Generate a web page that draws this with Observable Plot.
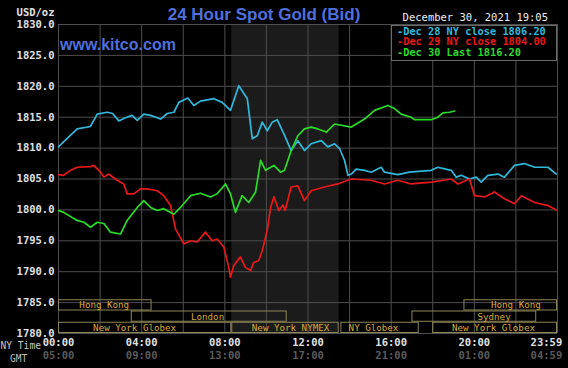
<!DOCTYPE html>
<html>
<head>
<meta charset="utf-8">
<script src="https://cdn.jsdelivr.net/npm/d3@7"></script>
<script src="https://cdn.jsdelivr.net/npm/@observablehq/plot@0.6"></script>
<style>
  html, body { margin: 0; padding: 0; background: #000; }
  svg { display: block; }
</style>
</head>
<body>
<div id="chart"></div>
<script>
// ---- Data (hour of NY day, price USD/oz) ----
const dec28 = [
  [0.00,1810.2],[0.24,1811.0],[0.90,1813.1],[1.54,1813.5],[1.86,1815.5],[2.34,1815.8],[2.60,1815.6],
  [2.90,1814.4],[3.22,1814.9],[3.54,1815.3],[3.79,1814.5],[4.10,1815.5],[4.43,1815.3],[4.91,1814.7],
  [5.23,1815.6],[5.55,1815.8],[5.79,1817.4],[6.22,1818.1],[6.51,1816.9],[6.83,1817.6],[7.47,1818.0],
  [7.87,1817.4],[8.27,1816.1],[8.67,1820.1],[9.08,1818.0],[9.32,1811.5],[9.56,1812.0],[9.80,1814.2],
  [10.04,1812.8],[10.28,1814.2],[10.52,1814.6],[10.84,1812.3],[11.19,1809.6],[11.51,1811.2],[11.83,1809.6],
  [12.15,1810.7],[12.64,1811.2],[12.95,1810.2],[13.28,1810.7],[13.52,1809.9],[13.76,1808.0],[13.92,1805.6],
  [14.08,1805.8],[14.32,1806.6],[14.72,1806.4],[15.04,1806.1],[15.52,1806.9],[15.68,1806.1],[16.32,1805.7],
  [16.88,1806.1],[17.93,1806.4],[18.24,1806.9],[18.89,1806.4],[19.13,1805.3],[19.37,1805.6],[19.77,1805.0],
  [20.09,1805.3],[20.33,1804.5],[20.65,1805.6],[21.13,1805.8],[21.45,1805.3],[21.93,1807.2],[22.41,1807.5],
  [22.90,1806.9],[23.54,1806.9],[23.94,1805.8]
];
const dec29 = [
  [0.00,1805.7],[0.24,1805.6],[0.58,1806.4],[0.90,1806.9],[1.54,1807.0],[1.70,1807.2],[2.02,1806.1],
  [2.18,1805.3],[2.42,1805.8],[2.82,1804.8],[3.14,1804.2],[3.30,1802.6],[3.62,1802.6],[3.94,1803.4],
  [4.27,1803.4],[4.75,1803.1],[5.06,1802.3],[5.39,1800.7],[5.63,1796.9],[6.03,1794.5],[6.35,1795.0],
  [6.67,1794.8],[7.07,1796.4],[7.39,1795.0],[7.63,1795.3],[7.95,1794.0],[8.19,1790.7],[8.27,1789.1],
  [8.43,1791.0],[8.75,1792.4],[8.99,1790.7],[9.24,1790.2],[9.39,1791.5],[9.63,1791.8],[9.80,1793.4],
  [10.04,1796.7],[10.20,1800.4],[10.36,1802.1],[10.60,1799.9],[10.80,1800.8],[10.90,1799.9],[11.19,1803.7],
  [11.51,1803.9],[11.83,1801.5],[12.15,1803.1],[12.79,1803.7],[13.43,1804.2],[14.08,1805.0],[15.04,1804.8],
  [15.68,1804.2],[16.32,1804.8],[16.96,1804.2],[17.93,1804.5],[18.89,1805.0],[19.21,1804.2],[19.77,1805.0],
  [20.01,1802.3],[20.49,1802.1],[20.97,1802.9],[21.45,1801.8],[21.93,1801.0],[22.26,1802.3],[22.90,1801.2],
  [23.54,1800.7],[23.94,1800.0]
];
const dec30 = [
  [0.00,1799.9],[0.25,1799.6],[0.90,1798.3],[1.22,1798.0],[1.54,1797.2],[1.86,1798.0],[2.18,1797.8],
  [2.50,1796.4],[2.98,1796.1],[3.30,1798.3],[3.79,1800.4],[4.10,1801.5],[4.43,1800.4],[4.75,1799.9],
  [5.06,1800.2],[5.55,1799.3],[5.87,1800.4],[6.35,1802.3],[6.83,1802.7],[7.31,1802.1],[7.63,1802.6],
  [8.03,1804.2],[8.27,1802.6],[8.51,1799.6],[8.83,1802.3],[9.15,1801.2],[9.48,1802.9],[9.72,1808.0],
  [9.96,1806.4],[10.36,1807.2],[10.68,1806.1],[10.87,1806.4],[11.19,1809.6],[11.51,1812.0],[11.83,1813.1],
  [12.15,1813.4],[12.47,1813.1],[12.88,1812.6],[13.28,1813.9],[14.08,1813.4],[14.72,1814.7],[15.20,1816.1],
  [15.84,1816.9],[16.16,1816.4],[16.48,1815.5],[16.96,1815.0],[17.12,1814.6],[17.93,1814.6],[18.24,1815.0],
  [18.49,1815.7],[18.81,1815.8],[19.05,1816.0]
];
const seriesNames = ["Dec 28 NY close 1806.20", "Dec 29 NY close 1804.00", "Dec 30 Last 1816.20"];
const seriesColors = ["#30b8dc", "#e81818", "#28dc28"];

const yTicks = [1780, 1785, 1790, 1795, 1800, 1805, 1810, 1815, 1820, 1825, 1830];
const xGridHours = [0, 2, 4, 6, 8, 10, 12, 14, 16, 18, 20, 22, 24];
const xTickHours = [0, 4, 8, 12, 16, 20];
const xTickNY = ["00:00", "04:00", "08:00", "12:00", "16:00", "20:00"];
const xTickGMT = ["05:00", "09:00", "13:00", "17:00", "21:00", "01:00"];
const lastTickHour = [24];
const lastTickNY = ["23:59"];
const lastTickGMT = ["04:59"];

// trading sessions (hours NY time), row 0 = top
const sessionNames = ["Hong Kong", "London", "New York Globex", "New York NYMEX", "NY Globex", "New York Globex", "Sydney", "Hong Kong"];
const sessionStart = [0, 3.5, 0, 8.333, 13.58, 18, 17, 19.5];
const sessionEnd   = [4.5, 11, 8.333, 13.5, 17.35, 24, 23, 24];
const sessionRow   = [0, 1, 2, 2, 2, 2, 1, 0];
const sessionLabelAt = [2.2, 7.17, 3.66, 11.16, 15.15, 20.92, 20.95, 22.0];
const shadeSession = [{start: 8.333, end: 13.5}];

// ---- build tables ----
const lines = [dec28, dec29, dec30].flatMap((s, i) => s.map(([h, v]) => ({h, v, series: seriesNames[i]})));
const sessions = sessionNames.map((name, i) => ({name, start: sessionStart[i], end: sessionEnd[i], row: sessionRow[i], at: sessionLabelAt[i]}));
const xTicks = xTickHours.map((h, i) => ({h, ny: xTickNY[i], gmt: xTickGMT[i]}));
const xLast = lastTickHour.map((h, i) => ({h, ny: lastTickNY[i], gmt: lastTickGMT[i]}));

const rowH = 1.82;
const rowY1 = d => 1780 + (2 - d.row) * rowH;
const rowY2 = d => 1780 + (3 - d.row) * rowH;

const mono = "DejaVu Sans Mono, monospace";

const chart = Plot.plot({
  width: 568,
  height: 368,
  marginLeft: 58,
  marginRight: 11,
  marginTop: 24,
  marginBottom: 35,
  style: {background: "#000", color: "#ddd", fontFamily: mono, overflow: "visible"},
  x: {domain: [0, 24], axis: null},
  y: {domain: [1780, 1830], axis: null},
  color: {domain: seriesNames, range: seriesColors},
  marks: [
    Plot.rect(shadeSession, {x1: "start", x2: "end", fill: "#1b1b1b"}),
    Plot.gridX(xGridHours, {stroke: "#4e4e4e", strokeOpacity: 1, strokeWidth: 1}),
    Plot.gridY(yTicks, {stroke: "#4e4e4e", strokeOpacity: 1, strokeWidth: 1}),
    Plot.rect(sessions, {x1: "start", x2: "end", y1: rowY1, y2: rowY2, stroke: "#8c8456", strokeWidth: 1, fill: "none", inset: 0.5}),
    Plot.text(sessions, {x: "at", y: d => (rowY1(d) + rowY2(d)) / 2, text: "name", fill: "#d6aa34", fontSize: 9.2, fontFamily: mono}),
    Plot.line(lines, {x: "h", y: "v", z: "series", stroke: "series", strokeWidth: 1.7}),
    Plot.axisY(yTicks, {label: null, tickFormat: d => d.toFixed(1), tickSize: 0, tickPadding: 4, fontSize: 10.5, fontWeight: "bold", fill: "#e0e0e0", fontFamily: mono}),
    Plot.text(xTicks, {x: "h", text: "ny", frameAnchor: "bottom", dy: 12.5, fontSize: 10.5, fontWeight: "bold", fill: "#e0e0e0", fontFamily: mono}),
    Plot.text(xTicks, {x: "h", text: "gmt", frameAnchor: "bottom", dy: 25, fontSize: 10.5, fontWeight: "bold", fill: "#5a5a5a", fontFamily: mono}),
    Plot.text(xLast, {x: "h", text: "ny", frameAnchor: "bottom", dy: 12.5, dx: 4.7, textAnchor: "end", fontSize: 10.5, fontWeight: "bold", fill: "#e0e0e0", fontFamily: mono}),
    Plot.text(xLast, {x: "h", text: "gmt", frameAnchor: "bottom", dy: 25, dx: 4.7, textAnchor: "end", fontSize: 10.5, fontWeight: "bold", fill: "#5a5a5a", fontFamily: mono})
  ]
});

document.getElementById("chart").appendChild(chart);

// ---- titles, legend and labels ----
const svg = d3.select(chart);
function label(x, y, anchor, txt, o) {
  return svg.append("text").attr("x", x).attr("y", y).attr("text-anchor", anchor)
    .attr("font-family", o.family || mono).attr("font-weight", o.weight || "normal")
    .attr("font-size", o.size).attr("fill", o.fill).text(txt);
}
label(264, 20, "middle", "24 Hour Spot Gold (Bid)", {family: "Liberation Sans, Arial, sans-serif", weight: "bold", size: 17, fill: "#4f6fdc"});
label(60, 50, "start", "www.kitco.com", {family: "Liberation Sans, Arial, sans-serif", weight: "bold", size: 16, fill: "#4f6fdc"});
label(54.5, 16, "end", "USD/oz", {weight: "bold", size: 10.5, fill: "#e0e0e0"});
label(548, 21, "end", "December 30, 2021 19:05", {size: 10.5, fill: "#eeeeee"});
label(0.5, 348.5, "start", "NY Time", {size: 9.6, fill: "#c8c8c8"});
label(10, 361.5, "start", "GMT", {size: 9.6, fill: "#bdbdbd"});

svg.append("rect").attr("x", 391.5).attr("y", 25.5).attr("width", 165).attr("height", 35)
  .attr("fill", "#000").attr("stroke", "#6a6a6a");
seriesNames.forEach((name, i) => {
  label(397, 34.5 + i * 10.8, "start", "-" + name, {weight: "bold", size: 10.3, fill: seriesColors[i]});
});
</script>
</body>
</html>
